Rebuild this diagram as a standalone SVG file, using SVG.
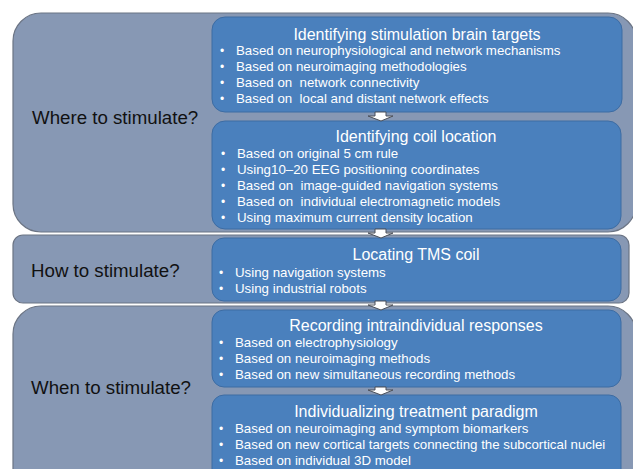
<svg xmlns="http://www.w3.org/2000/svg" width="633" height="469" viewBox="0 0 633 469" xml:space="preserve">
<defs>
<style>
.outer{fill:#8798B4;stroke:#6B7484;stroke-width:1.2}
.inner{fill:#4A80BD;stroke:#3D6CA3;stroke-width:1}
.q{font-family:"Liberation Sans",Arial,sans-serif;font-size:18.7px;fill:#111}
.t{font-family:"Liberation Sans",Arial,sans-serif;font-size:16px;fill:#fff;text-anchor:middle}
.b{font-family:"Liberation Sans",Arial,sans-serif;font-size:13.3px;fill:#fff;white-space:pre}
.dot{font-family:"Liberation Sans",Arial,sans-serif;font-size:12px;fill:#fff}
.arr{fill:#fff;stroke:#4A4F58;stroke-width:1}
</style>
</defs>
<rect width="633" height="469" fill="#fff"/>
<g id="where">
<rect class="outer" x="13" y="13" width="623" height="219" rx="28"/>
<text class="q" x="32" y="124">Where to stimulate?</text>
</g>
<g id="how">
<rect class="outer" x="13" y="235" width="616" height="68" rx="10"/>
<text class="q" x="31" y="277">How to stimulate?</text>
</g>
<g id="when">
<rect class="outer" x="13" y="306" width="623" height="200" rx="28"/>
<text class="q" x="31" y="394">When to stimulate?</text>
</g>
<g id="targets">
<rect class="inner" x="212" y="17" width="410" height="95" rx="13"/>
<text class="t" x="417" y="40">Identifying stimulation brain targets</text>
<g class="dot"><text x="220" y="55">•</text><text x="220" y="71">•</text><text x="220" y="87">•</text><text x="220" y="103">•</text></g>
<text class="b" x="236" y="55">Based on neurophysiological and network mechanisms</text>
<text class="b" x="236" y="71">Based on neuroimaging methodologies</text>
<text class="b" x="236" y="87">Based on  network connectivity</text>
<text class="b" x="236" y="103">Based on  local and distant network effects</text>
</g>
<g id="coil">
<rect class="inner" x="212" y="121" width="409" height="108" rx="13"/>
<text class="t" x="416" y="142">Identifying coil location</text>
<g class="dot"><text x="221" y="158">•</text><text x="221" y="174">•</text><text x="221" y="190">•</text><text x="221" y="206">•</text><text x="221" y="222">•</text></g>
<text class="b" x="237" y="158">Based on original 5 cm rule</text>
<text class="b" x="237" y="174">Using10–20 EEG positioning coordinates</text>
<text class="b" x="237" y="190">Based on  image-guided navigation systems</text>
<text class="b" x="237" y="206">Based on  individual electromagnetic models</text>
<text class="b" x="237" y="222">Using maximum current density location</text>
</g>
<g id="tms">
<rect class="inner" x="212" y="238" width="409" height="63" rx="12"/>
<text class="t" x="416" y="260">Locating TMS coil</text>
<g class="dot"><text x="219" y="277">•</text><text x="219" y="293">•</text></g>
<text class="b" x="235" y="277">Using navigation systems</text>
<text class="b" x="235" y="293">Using industrial robots</text>
</g>
<g id="recording">
<rect class="inner" x="212" y="310" width="409" height="77" rx="12"/>
<text class="t" x="416" y="331">Recording intraindividual responses</text>
<g class="dot"><text x="219" y="347">•</text><text x="219" y="363">•</text><text x="219" y="379">•</text></g>
<text class="b" x="235" y="347">Based on electrophysiology</text>
<text class="b" x="235" y="363">Based on neuroimaging methods</text>
<text class="b" x="235" y="379">Based on new simultaneous recording methods</text>
</g>
<g id="paradigm">
<rect class="inner" x="212" y="395" width="409" height="90" rx="12"/>
<text class="t" x="416" y="417">Individualizing treatment paradigm</text>
<g class="dot"><text x="219" y="433">•</text><text x="219" y="449">•</text><text x="219" y="465">•</text></g>
<text class="b" x="235" y="433">Based on neuroimaging and symptom biomarkers</text>
<text class="b" x="235" y="449">Based on new cortical targets connecting the subcortical nuclei</text>
<text class="b" x="235" y="465">Based on individual 3D model</text>
</g>
<g id="connectors">
<polygon class="arr" points="375,112 386,112 386,116 393,116 381,121 368,116 375,116"/>
<polygon class="arr" points="375,229 386,229 386,233 393,233 381,238 368,233 375,233"/>
<polygon class="arr" points="375,301 386,301 386,305 393,305 381,310 368,305 375,305"/>
<polygon class="arr" points="375,387 386,387 386,390 393,390 381,395 368,390 375,390"/>
</g>
</svg>
